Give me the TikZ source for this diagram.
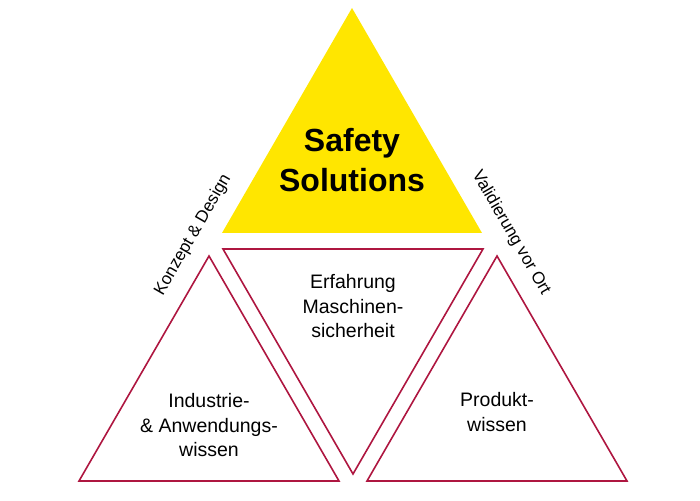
\documentclass[tikz,border=0pt]{standalone}
\usepackage{fontspec}
\setmainfont{Liberation Sans}
\usepackage{tikz}
\usepackage{xcolor}
\definecolor{safetyyellow}{HTML}{FFE600}
\definecolor{safetyred}{HTML}{AE1640}

\begin{document}
\begin{tikzpicture}[x=1pt,y=1pt,
  redtri/.style={draw=safetyred,line width=1.6pt,line join=miter},
  bodytext/.style={align=center,inner sep=0pt,font=\fontsize{19.5}{24.5}\selectfont},
  sidetext/.style={inner sep=0pt,font=\fontsize{17}{20}\selectfont}]
\useasboundingbox (0,0) rectangle (700,500);
%\draw[help lines] (0,0) grid[step=50] (700,500);
\fill[safetyyellow] (222,267) -- (482,267) -- (352,492) -- cycle;
\draw[redtri] (223,251) -- (483,251) -- (353,26) -- cycle;
\draw[redtri] (79,19) -- (339,19) -- (209,244) -- cycle;
\draw[redtri] (367,19) -- (627,19) -- (497,244) -- cycle;
\node[align=center,inner sep=0pt,font=\fontsize{32}{40}\selectfont\bfseries] (safety) at (352,339.7) {Safety\\Solutions};
\node[bodytext] (erfahrung) at (353,193.8) {Erfahrung\\Maschinen-\\sicherheit};
\node[bodytext] (industrie) at (209,74.8) {Industrie-\\\& Anwendungs-\\wissen};
\node[bodytext] (produkt) at (497,87.8) {Produkt-\\wissen};
\node[sidetext,rotate=60] (konzept) at (193,265) {Konzept \& Design};
\node[sidetext,rotate=-60] (validierung) at (511,267) {Validierung vor Ort};
\end{tikzpicture}
\end{document}
